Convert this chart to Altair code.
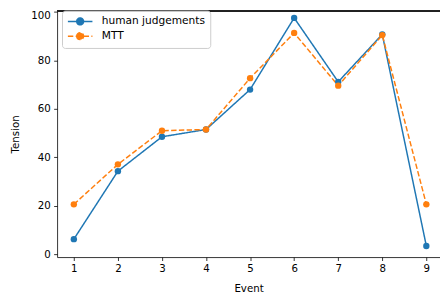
import altair as alt
import pandas as pd

events = [1, 2, 3, 4, 5, 6, 7, 8, 9]
human = [6.2, 34.3, 48.5, 51.5, 68.0, 97.6, 71.2, 90.8, 3.4]
mtt = [20.6, 37.1, 51.0, 51.5, 72.7, 91.4, 69.6, 90.5, 20.6]
series_names = ["human judgements", "MTT"]

rows = []
for e, h, m in zip(events, human, mtt):
    rows.append({"Event": e, "Tension": h, "series": series_names[0]})
    rows.append({"Event": e, "Tension": m, "series": series_names[1]})
df = pd.DataFrame(rows)

colors = ["#1f77b4", "#ff7f0e"]
font = "DejaVu Sans"
W, H = 390, 251
sym = "M-2.5,0H-0.7M0.7,0H2.5M-0.7,0A0.7,0.7 0 1,1 0.7,0A0.7,0.7 0 1,1 -0.7,0Z"

leg = alt.Legend(title=None, orient="none", legendX=5, legendY=0,
                 symbolType=sym, symbolSize=100, symbolStrokeWidth=1.5, symbolOffset=7.5,
                 labelFontSize=10.8, labelFont=font, labelColor="#000", labelOffset=16,
                 fillColor="white", strokeColor="#cccccc", cornerRadius=3,
                 padding=5, rowPadding=1)

x = alt.X("Event:Q", scale=alt.Scale(domain=[0.62, 9.31], nice=False, zero=False),
          axis=alt.Axis(values=events, title="Event", format="d", grid=False, titlePadding=10))
y = alt.Y("Tension:Q", scale=alt.Scale(domain=[-1.2, 100.6], nice=False, zero=False),
          axis=alt.Axis(values=[0, 20, 40, 60, 80, 100], title="Tension", grid=False, titlePadding=10,
                        labelOffset={"condition": {"test": "datum.value == 100", "value": 4}, "value": 0}))
color = alt.Color("series:N", scale=alt.Scale(domain=series_names, range=colors), legend=leg)
fill = alt.Fill("series:N", scale=alt.Scale(domain=series_names, range=colors), legend=leg)
dash = alt.StrokeDash("series:N", scale=alt.Scale(domain=series_names, range=[[1, 0], [5.5, 2.4]]), legend=leg)

line = alt.Chart(df).mark_line(strokeWidth=1.5).encode(x=x, y=y, color=color, strokeDash=dash)
pts = alt.Chart(df).mark_point(filled=True, size=42, opacity=1, strokeWidth=0).encode(x=x, y=y, fill=fill)
top = alt.Chart(df).mark_rule(color="#222", strokeWidth=0.8).encode(
    x=alt.value(0), x2=alt.value(W), y=alt.value(0.5))

chart = alt.layer(line, pts, top).properties(
    width=W, height=H,
    autosize=alt.AutoSizeParams(type="none"),
    padding={"left": 50, "top": 0, "right": 0, "bottom": 40},
).configure_view(stroke=None).configure_axis(
    labelFont=font, titleFont=font, labelFontSize=10.4, titleFontSize=10.4,
    labelColor="#000", titleColor="#000", titleFontWeight="normal",
    domainColor="#000", tickColor="#000", tickSize=3.5, domainWidth=0.8, tickWidth=0.8,
    labelPadding=3.5,
)
chart.save("out.html", embed_options={"renderer": "svg", "actions": False})
